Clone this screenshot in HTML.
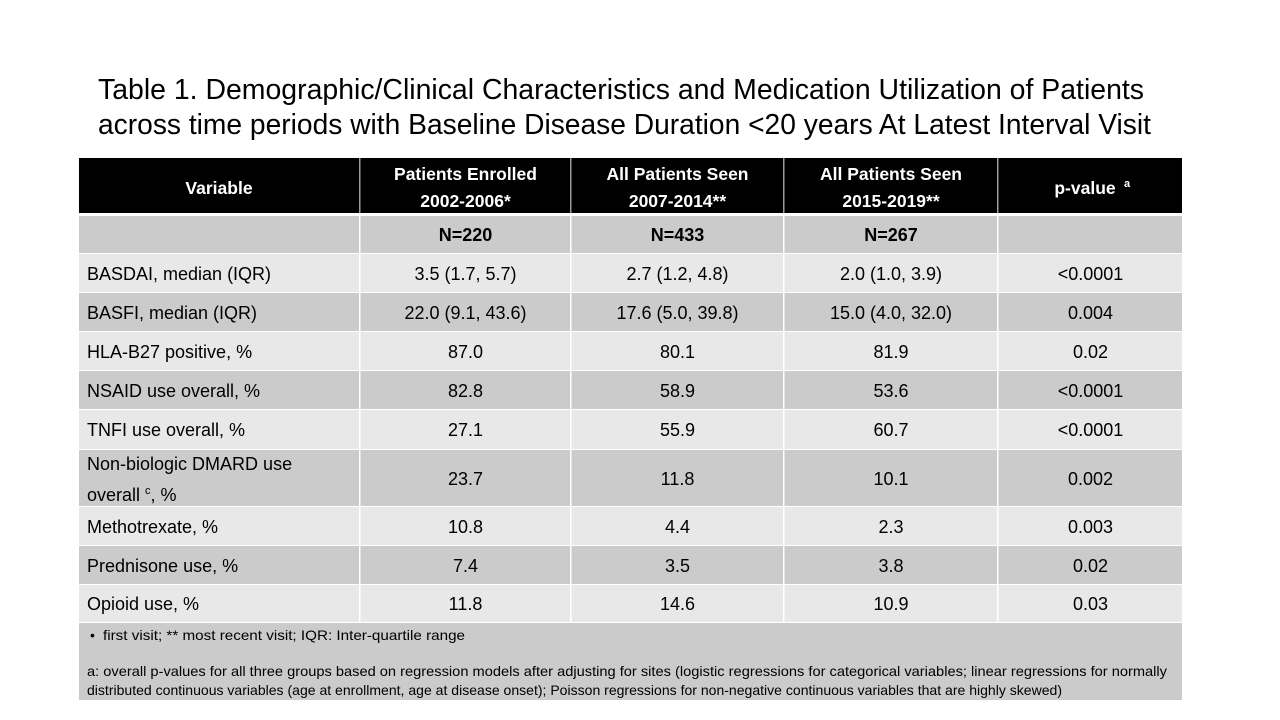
<!DOCTYPE html>
<html>
<head>
<meta charset="utf-8">
<style>
  html, body { margin:0; padding:0; background:#ffffff; }
  svg { display:block; }
  text { font-family: "Liberation Sans", Arial, sans-serif; }
</style>
</head>
<body>
<svg width="1280" height="720" viewBox="0 0 1280 720" xmlns="http://www.w3.org/2000/svg">
  <rect x="0" y="0" width="1280" height="720" fill="#ffffff"/>

  <!-- Title -->
  <text x="98" y="99" font-size="29" fill="#000" textLength="1046" lengthAdjust="spacingAndGlyphs">Table 1. Demographic/Clinical Characteristics and Medication Utilization of Patients</text>
  <text x="98" y="134" font-size="29" fill="#000" textLength="1053" lengthAdjust="spacingAndGlyphs">across time periods with Baseline Disease Duration &lt;20 years At Latest Interval Visit</text>

  <!-- Header -->
  <rect x="79" y="158" width="1103" height="55" fill="#000000"/>

  <!-- Rows -->
  <rect x="79" y="216" width="1103" height="37" fill="#cbcbcb"/>
  <rect x="79" y="254" width="1103" height="38" fill="#e8e8e8"/>
  <rect x="79" y="293" width="1103" height="38" fill="#cbcbcb"/>
  <rect x="79" y="332" width="1103" height="38" fill="#e8e8e8"/>
  <rect x="79" y="371" width="1103" height="38" fill="#cbcbcb"/>
  <rect x="79" y="410" width="1103" height="39" fill="#e8e8e8"/>
  <rect x="79" y="450" width="1103" height="56" fill="#cbcbcb"/>
  <rect x="79" y="507" width="1103" height="38" fill="#e8e8e8"/>
  <rect x="79" y="546" width="1103" height="38" fill="#cbcbcb"/>
  <rect x="79" y="585" width="1103" height="37" fill="#e8e8e8"/>
  <rect x="79" y="623" width="1103" height="77" fill="#cbcbcb"/>

  <!-- Column dividers -->
  <g fill="#ffffff">
    <rect x="359" y="158" width="1.5" height="465"/>
    <rect x="570" y="158" width="1.5" height="465"/>
    <rect x="783" y="158" width="1.5" height="465"/>
    <rect x="997" y="158" width="1.5" height="465"/>
  </g>
  <g fill="#9a9a9a">
    <rect x="359" y="158" width="1.5" height="55"/>
    <rect x="570" y="158" width="1.5" height="55"/>
    <rect x="783" y="158" width="1.5" height="55"/>
    <rect x="997" y="158" width="1.5" height="55"/>
  </g>

  <!-- Header text -->
  <g font-size="17.5" font-weight="bold" fill="#ffffff" text-anchor="middle">
    <text x="219" y="194">Variable</text>
    <text x="465.5" y="180">Patients Enrolled</text>
    <text x="465.5" y="207">2002-2006*</text>
    <text x="677.5" y="180">All Patients Seen</text>
    <text x="677.5" y="207">2007-2014**</text>
    <text x="891" y="180">All Patients Seen</text>
    <text x="891" y="207">2015-2019**</text>
    <text x="1085" y="194">p-value</text>
  </g>
  <text x="1124" y="187" font-size="11" font-weight="bold" fill="#ffffff">a</text>

  <!-- N row -->
  <g font-size="18" font-weight="bold" fill="#000" text-anchor="middle">
    <text x="465.5" y="241">N=220</text>
    <text x="677.5" y="241">N=433</text>
    <text x="891" y="241">N=267</text>
  </g>

  <!-- Body labels -->
  <g font-size="18" fill="#000">
    <text x="87" y="280">BASDAI, median (IQR)</text>
    <text x="87" y="319">BASFI, median (IQR)</text>
    <text x="87" y="358">HLA-B27 positive, %</text>
    <text x="87" y="397">NSAID use overall, %</text>
    <text x="87" y="436">TNFI use overall, %</text>
    <text x="87" y="470">Non-biologic DMARD use</text>
    <text x="87" y="501">overall <tspan font-size="11" dy="-7">c</tspan><tspan dy="7">, %</tspan></text>
    <text x="87" y="533">Methotrexate, %</text>
    <text x="87" y="572">Prednisone use, %</text>
    <text x="87" y="610">Opioid use, %</text>
  </g>

  <!-- Body values -->
  <g font-size="18" fill="#000" text-anchor="middle">
    <text x="465.5" y="280">3.5 (1.7, 5.7)</text>
    <text x="677.5" y="280">2.7 (1.2, 4.8)</text>
    <text x="891" y="280">2.0 (1.0, 3.9)</text>
    <text x="1090.5" y="280">&lt;0.0001</text>

    <text x="465.5" y="319">22.0 (9.1, 43.6)</text>
    <text x="677.5" y="319">17.6 (5.0, 39.8)</text>
    <text x="891" y="319">15.0 (4.0, 32.0)</text>
    <text x="1090.5" y="319">0.004</text>

    <text x="465.5" y="358">87.0</text>
    <text x="677.5" y="358">80.1</text>
    <text x="891" y="358">81.9</text>
    <text x="1090.5" y="358">0.02</text>

    <text x="465.5" y="397">82.8</text>
    <text x="677.5" y="397">58.9</text>
    <text x="891" y="397">53.6</text>
    <text x="1090.5" y="397">&lt;0.0001</text>

    <text x="465.5" y="436">27.1</text>
    <text x="677.5" y="436">55.9</text>
    <text x="891" y="436">60.7</text>
    <text x="1090.5" y="436">&lt;0.0001</text>

    <text x="465.5" y="485">23.7</text>
    <text x="677.5" y="485">11.8</text>
    <text x="891" y="485">10.1</text>
    <text x="1090.5" y="485">0.002</text>

    <text x="465.5" y="533">10.8</text>
    <text x="677.5" y="533">4.4</text>
    <text x="891" y="533">2.3</text>
    <text x="1090.5" y="533">0.003</text>

    <text x="465.5" y="572">7.4</text>
    <text x="677.5" y="572">3.5</text>
    <text x="891" y="572">3.8</text>
    <text x="1090.5" y="572">0.02</text>

    <text x="465.5" y="610">11.8</text>
    <text x="677.5" y="610">14.6</text>
    <text x="891" y="610">10.9</text>
    <text x="1090.5" y="610">0.03</text>
  </g>

  <!-- Footnotes -->
  <g font-size="14" fill="#000">
    <text x="90" y="640">•</text>
    <text x="103" y="640" textLength="362" lengthAdjust="spacingAndGlyphs">first visit; ** most recent visit; IQR: Inter-quartile range</text>
    <text x="87" y="676" textLength="1080" lengthAdjust="spacingAndGlyphs">a: overall p-values for all three groups based on regression models after adjusting for sites (logistic regressions for categorical variables; linear regressions for normally</text>
    <text x="87" y="695" textLength="975" lengthAdjust="spacingAndGlyphs">distributed continuous variables (age at enrollment, age at disease onset); Poisson regressions for non-negative continuous variables that are highly skewed)</text>
  </g>
</svg>
</body>
</html>
